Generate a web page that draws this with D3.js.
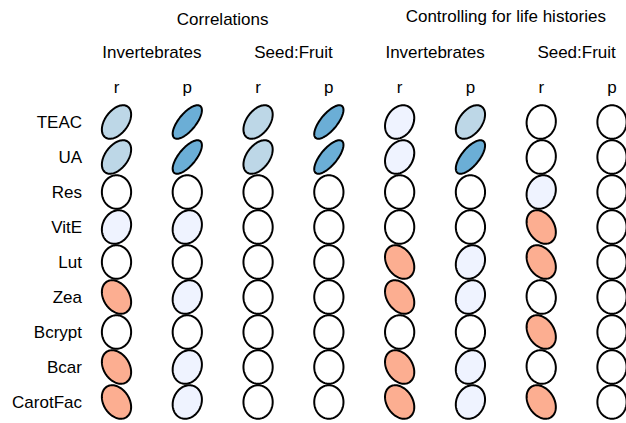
<!DOCTYPE html>
<html>
<head>
<meta charset="utf-8">
<script src="https://cdn.jsdelivr.net/npm/d3@7"></script>
<style>
  html, body { margin: 0; padding: 0; background: #fff; }
  svg { display: block; font-family: "Liberation Sans", Arial, Helvetica, sans-serif; }
</style>
</head>
<body>
<svg id="chart" width="626" height="423"></svg>
<script>
// Antioxidant / carotenoid traits (rows) against two predictors,
// raw correlations and correlations controlling for life histories.
const traits = ["TEAC", "UA", "Res", "VitE", "Lut", "Zea", "Bcrypt", "Bcar", "CarotFac"];

const groupTitles = ["Correlations", "Controlling for life histories"];
const predictors = ["Invertebrates", "Seed:Fruit"];
const statLabels = ["r", "p"];

// One array per column: raw Invertebrates r / p, raw Seed:Fruit r / p,
// then the same four after controlling for life histories.
const rawInvR   = [0.45, 0.45, 0.00, 0.15, 0.00, -0.30, 0.00, -0.30, -0.30];
const rawInvP   = [0.70, 0.70, 0.00, 0.15, 0.00,  0.15, 0.00,  0.15,  0.15];
const rawSeedR  = [0.45, 0.45, 0.00, 0.00, 0.00,  0.00, 0.00,  0.00,  0.00];
const rawSeedP  = [0.72, 0.72, 0.00, 0.00, 0.00,  0.00, 0.00,  0.00,  0.00];
const ctlInvR   = [0.24, 0.24, 0.00, 0.00, -0.30, -0.33, 0.00, -0.30, -0.30];
const ctlInvP   = [0.45, 0.68, 0.00, 0.00, 0.15,  0.15, 0.00,  0.15,  0.15];
const ctlSeedR  = [0.05, 0.05, 0.15, -0.30, -0.30, -0.05, -0.30, -0.05, -0.30];
const ctlSeedP  = [0.00, 0.00, 0.00, 0.00, 0.00,  0.00, 0.00,  0.00,  0.00];

const columns = [rawInvR, rawInvP, rawSeedR, rawSeedP, ctlInvR, ctlInvP, ctlSeedR, ctlSeedP];

// Colour classes: reds for negative, blues for positive, white near zero
const breaks = [-0.75, -0.5, -0.25, -0.1, 0.1, 0.25, 0.5, 0.75];
const palette = ["#CB181D", "#FB6A4A", "#FCAE91", "#FEE5D9", "#FFFFFF",
                 "#EFF3FF", "#BDD7E7", "#6BAED6", "#2171B5"];

const svg = d3.select("#chart");
const fontSize = 17;

const colKeys = d3.range(columns.length);
const x = d3.scalePoint().domain(colKeys).range([116.5, 612]);
const y = d3.scalePoint().domain(traits).range([122, 402]);
const fill = d3.scaleThreshold().domain(breaks).range(palette);

// Ellipse of a 2x2 correlation matrix (parametrised as in ellipse::ellipse, t = 0.43),
// mapped from cell units to pixels; cells are a little taller than wide.
const unitX = d3.scaleLinear().domain([-1, 1]).range([-34, 34]);
const unitY = d3.scaleLinear().domain([-1, 1]).range([39, -39]);
const t = 0.43;
const angles = d3.range(100).map(i => i * 2 * Math.PI / 100);
function ellipsePoints(r) {
  const d = Math.acos(Math.max(-1, Math.min(1, r)));
  return angles.map(a => [t * Math.cos(a + d / 2), t * Math.cos(a - d / 2)]);
}
const ellLine = d3.line()
  .x(p => unitX(p[0]))
  .y(p => unitY(p[1]))
  .curve(d3.curveLinearClosed);

const cells = [];
columns.forEach((vals, j) => vals.forEach((v, i) => cells.push({ j, trait: traits[i], v })));

svg.append("g").selectAll("path")
  .data(cells)
  .join("path")
  .attr("transform", c => `translate(${x(c.j)},${y(c.trait)})`)
  .attr("d", c => ellLine(ellipsePoints(c.v)))
  .attr("fill", c => fill(c.v))
  .attr("stroke", "#000")
  .attr("stroke-width", 2)
  .attr("stroke-linejoin", "round");

// Row labels
svg.append("g").selectAll("text")
  .data(traits)
  .join("text")
  .attr("x", 82)
  .attr("y", d => y(d))
  .attr("dy", "0.35em")
  .attr("text-anchor", "end")
  .attr("font-size", fontSize)
  .text(d => d);

// r / p labels above each column
svg.append("g").selectAll("text")
  .data(colKeys)
  .join("text")
  .attr("x", j => x(j))
  .attr("y", 87)
  .attr("dy", "0.35em")
  .attr("text-anchor", "middle")
  .attr("font-size", fontSize)
  .text(j => statLabels[j % 2]);

// Predictor labels, centred over each r/p pair
svg.append("g").selectAll("text")
  .data(d3.range(4))
  .join("text")
  .attr("x", k => (x(2 * k) + x(2 * k + 1)) / 2)
  .attr("y", 52)
  .attr("dy", "0.35em")
  .attr("text-anchor", "middle")
  .attr("font-size", fontSize)
  .text(k => predictors[k % 2]);

// Group titles
const titleY = [19, 16];
svg.append("g").selectAll("text")
  .data(groupTitles)
  .join("text")
  .attr("x", (d, g) => (x(4 * g) + x(4 * g + 3)) / 2)
  .attr("y", (d, g) => titleY[g])
  .attr("dy", "0.35em")
  .attr("text-anchor", "middle")
  .attr("font-size", fontSize)
  .text(d => d);
</script>
</body>
</html>
